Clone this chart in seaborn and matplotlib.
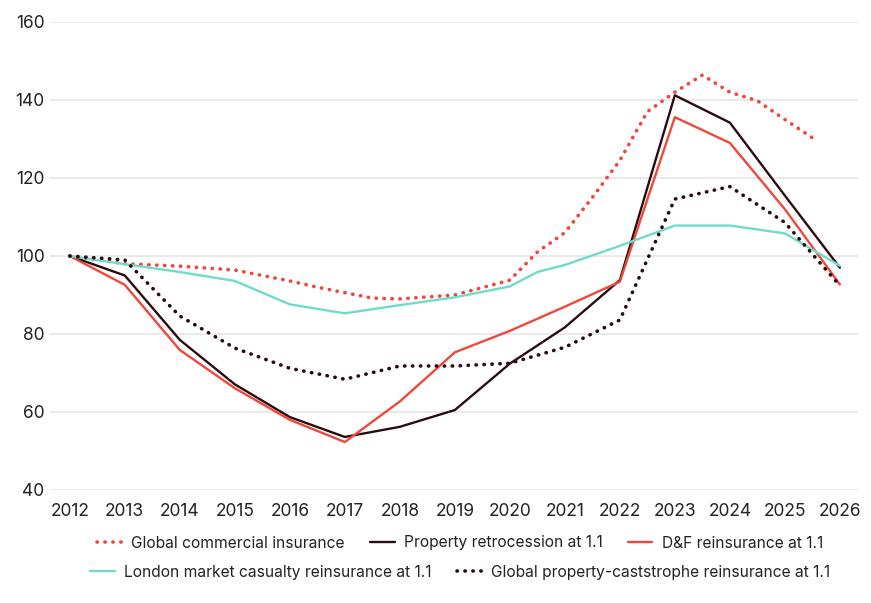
import numpy as np
import pandas as pd
import matplotlib
matplotlib.use("Agg")
import matplotlib.pyplot as plt
import seaborn as sns

# ------------------------ DATA ------------------------

gci_years = [2012, 2013, 2014, 2015, 2016, 2016.5, 2017, 2017.5, 2018, 2019, 2020, 2020.5,
             2021, 2021.5, 2022, 2022.5, 2023, 2023.5, 2024, 2024.5, 2025, 2025.5]
gci_vals = [100, 98, 97.4, 96.4, 93.6, 92, 90.6, 89.2, 89, 90, 93.8, 101,
            106, 115, 124.5, 137, 142, 146.4, 142, 139.8, 135, 130.3]

years = list(range(2012, 2027))
retro_vals = [100, 95, 78.5, 67.1, 58.7, 53.6, 56.2, 60.5, 72.4, 81.7, 93.8, 141.2, 134.2, 115.5, 97]
df_vals = [100, 92.6, 75.9, 66.1, 58, 52.3, 62.7, 75.3, 80.8, 87, 93.4, 135.6, 129, 112, 92.7]

casualty_years = [2012, 2013, 2014, 2015, 2016, 2017, 2018, 2019, 2020, 2020.5,
                  2021, 2022, 2023, 2024, 2025, 2026]
casualty_vals = [100, 97.9, 95.9, 93.6, 87.6, 85.3, 87.4, 89.4, 92.2, 95.9,
                 97.7, 102.6, 107.8, 107.8, 105.8, 97.5]

cat_vals = [100, 99, 84.6, 76.4, 71.2, 68.4, 71.8, 71.8, 72.5, 76.6, 83.6, 114.6, 117.8, 108.6, 92.4]

x_ticks = list(range(2012, 2027))
y_ticks = [40, 60, 80, 100, 120, 140, 160]

RED = "#f0473c"
DARK = "#2a0c10"
TEAL = "#70dacb"

# ------------------------ PLOT ------------------------

sns.set_theme(style="white")
plt.rcParams['font.family'] = ['Inter', 'DejaVu Sans']

fig = plt.figure(figsize=(8.71, 6.03), dpi=100)
ax = fig.add_axes([50 / 871, 1 - 490 / 603, 808 / 871, 468 / 603])

dot = (0, (0.1, 2.1))

sns.lineplot(x=gci_years, y=gci_vals, ax=ax, color=RED, linewidth=2.6,
             linestyle=dot, dash_capstyle="round", label="Global commercial insurance")
sns.lineplot(x=years, y=retro_vals, ax=ax, color=DARK, linewidth=1.7,
             label="Property retrocession at 1.1")
sns.lineplot(x=years, y=df_vals, ax=ax, color=RED, linewidth=1.7,
             label="D&F reinsurance at 1.1")
sns.lineplot(x=casualty_years, y=casualty_vals, ax=ax, color=TEAL, linewidth=1.7,
             label="London market casualty reinsurance at 1.1")
sns.lineplot(x=years, y=cat_vals, ax=ax, color=DARK, linewidth=2.6,
             linestyle=dot, dash_capstyle="round",
             label="Global property-caststrophe reinsurance at 1.1")

ax.set_xlim(2011.64, 2026.33)
ax.set_ylim(40, 160)
ax.set_xticks(x_ticks)
ax.set_yticks(y_ticks)
ax.set_xlabel("")
ax.set_ylabel("")
ax.grid(axis="y", color="#e3e3e3", linewidth=1.1)
ax.set_axisbelow(True)
for s in ax.spines.values():
    s.set_visible(False)
ax.tick_params(axis="both", length=0, labelsize=12.5, colors="#222222")
ax.tick_params(axis="x", pad=9)
ax.tick_params(axis="y", pad=4)

handles, labels = ax.get_legend_handles_labels()
ax.get_legend().remove()

leg_kw = dict(frameon=False, fontsize=11.2, handlelength=1.6, handletextpad=0.6,
              columnspacing=1.6, labelcolor="#222222")
leg1 = fig.legend(handles[:3], labels[:3], ncol=3, loc="center",
                  bbox_to_anchor=(460 / 871, 1 - 543 / 603), **leg_kw)
leg2 = fig.legend(handles[3:], labels[3:], ncol=2, loc="center",
                  bbox_to_anchor=(460 / 871, 1 - 572 / 603), **leg_kw)

fig.savefig("out.png", dpi=100, facecolor="white")
